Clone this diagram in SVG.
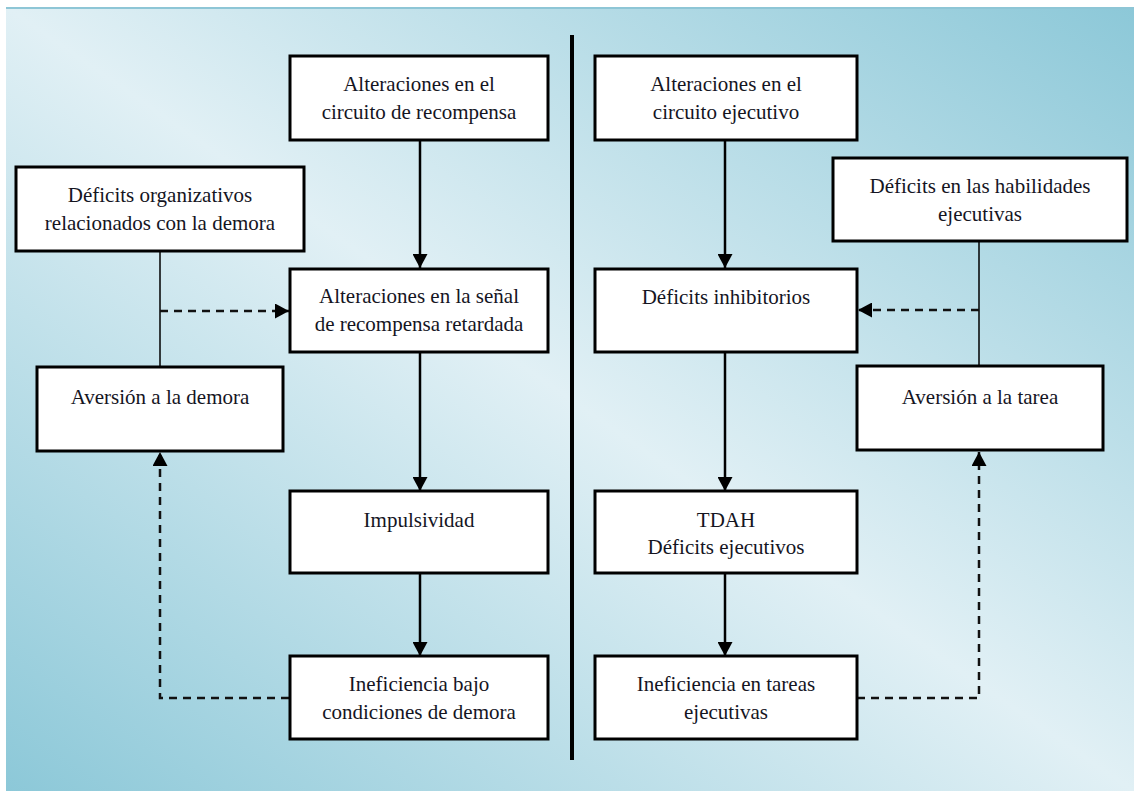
<svg xmlns="http://www.w3.org/2000/svg" width="1134" height="791" viewBox="0 0 1134 791">
  <defs>
    <linearGradient id="bg" gradientUnits="userSpaceOnUse" x1="202" y1="928" x2="938" y2="-130">
      <stop offset="0" stop-color="#8cc8d8"/>
      <stop offset="0.5" stop-color="#e1f0f5"/>
      <stop offset="1" stop-color="#8cc8d8"/>
    </linearGradient>
    <marker id="arrow" viewBox="0 0 14 15" markerUnits="userSpaceOnUse" markerWidth="14" markerHeight="15" refX="14" refY="7.5" orient="auto">
      <path d="M0,0 L14,7.5 L0,15 Z" fill="#000"/>
    </marker>
    <style>
      .box { fill: #ffffff; stroke: #000; stroke-width: 3; }
      .lbl { font-family: "Liberation Serif", "Times New Roman", serif; font-size: 21px; fill: #15151f; text-anchor: middle; }
      .solid { fill: none; stroke: #000; stroke-width: 2.5; }
      .thin { fill: none; stroke: #000; stroke-width: 1.5; }
      .dash { fill: none; stroke: #111; stroke-width: 2.5; stroke-dasharray: 8 6; }
    </style>
  </defs>

  <!-- backdrop -->
  <rect x="0" y="0" width="1134" height="791" fill="#ffffff"/>
  <rect x="6" y="7" width="1128" height="784" fill="url(#bg)"/>
  <line x1="6" y1="8" x2="1134" y2="8" stroke="#8ec6d6" stroke-width="2"/>

  <!-- central divider -->
  <line x1="572" y1="35" x2="572" y2="760" stroke="#000" stroke-width="4"/>

  <!-- connectors -->
  <g id="connectors">
    <path class="solid" d="M420,140 V268" marker-end="url(#arrow)"/>
    <path class="solid" d="M420,352 V491" marker-end="url(#arrow)"/>
    <path class="solid" d="M420,573 V656" marker-end="url(#arrow)"/>
    <path class="thin" d="M160,251 V367"/>
    <path class="dash" d="M160,311 H289" marker-end="url(#arrow)"/>
    <path class="dash" d="M289,698 H160 V452" marker-end="url(#arrow)"/>

    <path class="solid" d="M725,140 V268" marker-end="url(#arrow)"/>
    <path class="solid" d="M725,352 V491" marker-end="url(#arrow)"/>
    <path class="solid" d="M725,573 V656" marker-end="url(#arrow)"/>
    <path class="thin" d="M979,241 V366"/>
    <path class="dash" d="M979,310 H858" marker-end="url(#arrow)"/>
    <path class="dash" d="M857,698 H979 V452" marker-end="url(#arrow)"/>
  </g>

  <!-- reward pathway (left) -->
  <g id="circuito-recompensa">
    <rect class="box" x="290" y="56" width="258" height="84"/>
    <text class="lbl" x="419" y="91">Alteraciones en el</text>
    <text class="lbl" x="419" y="119">circuito de recompensa</text>
  </g>
  <g id="deficits-organizativos">
    <rect class="box" x="16" y="167" width="288" height="84"/>
    <text class="lbl" x="160" y="202">Déficits organizativos</text>
    <text class="lbl" x="160" y="230">relacionados con la demora</text>
  </g>
  <g id="senal-recompensa">
    <rect class="box" x="290" y="269" width="258" height="83"/>
    <text class="lbl" x="419" y="303">Alteraciones en la señal</text>
    <text class="lbl" x="419" y="331">de recompensa retardada</text>
  </g>
  <g id="aversion-demora">
    <rect class="box" x="37" y="367" width="246" height="84"/>
    <text class="lbl" x="160" y="404">Aversión a la demora</text>
  </g>
  <g id="impulsividad">
    <rect class="box" x="290" y="491" width="258" height="82"/>
    <text class="lbl" x="419" y="527">Impulsividad</text>
  </g>
  <g id="ineficiencia-demora">
    <rect class="box" x="290" y="656" width="258" height="83"/>
    <text class="lbl" x="419" y="691">Ineficiencia bajo</text>
    <text class="lbl" x="419" y="719">condiciones de demora</text>
  </g>

  <!-- executive pathway (right) -->
  <g id="circuito-ejecutivo">
    <rect class="box" x="595" y="56" width="262" height="84"/>
    <text class="lbl" x="726" y="91">Alteraciones en el</text>
    <text class="lbl" x="726" y="119">circuito ejecutivo</text>
  </g>
  <g id="habilidades-ejecutivas">
    <rect class="box" x="833" y="158" width="294" height="83"/>
    <text class="lbl" x="980" y="193">Déficits en las habilidades</text>
    <text class="lbl" x="980" y="221">ejecutivas</text>
  </g>
  <g id="deficits-inhibitorios">
    <rect class="box" x="595" y="269" width="262" height="83"/>
    <text class="lbl" x="726" y="304">Déficits inhibitorios</text>
  </g>
  <g id="aversion-tarea">
    <rect class="box" x="857" y="366" width="246" height="84"/>
    <text class="lbl" x="980" y="404">Aversión a la tarea</text>
  </g>
  <g id="tdah">
    <rect class="box" x="595" y="491" width="262" height="82"/>
    <text class="lbl" x="726" y="527">TDAH</text>
    <text class="lbl" x="726" y="554">Déficits ejecutivos</text>
  </g>
  <g id="ineficiencia-tareas">
    <rect class="box" x="595" y="656" width="262" height="83"/>
    <text class="lbl" x="726" y="691">Ineficiencia en tareas</text>
    <text class="lbl" x="726" y="719">ejecutivas</text>
  </g>
</svg>
